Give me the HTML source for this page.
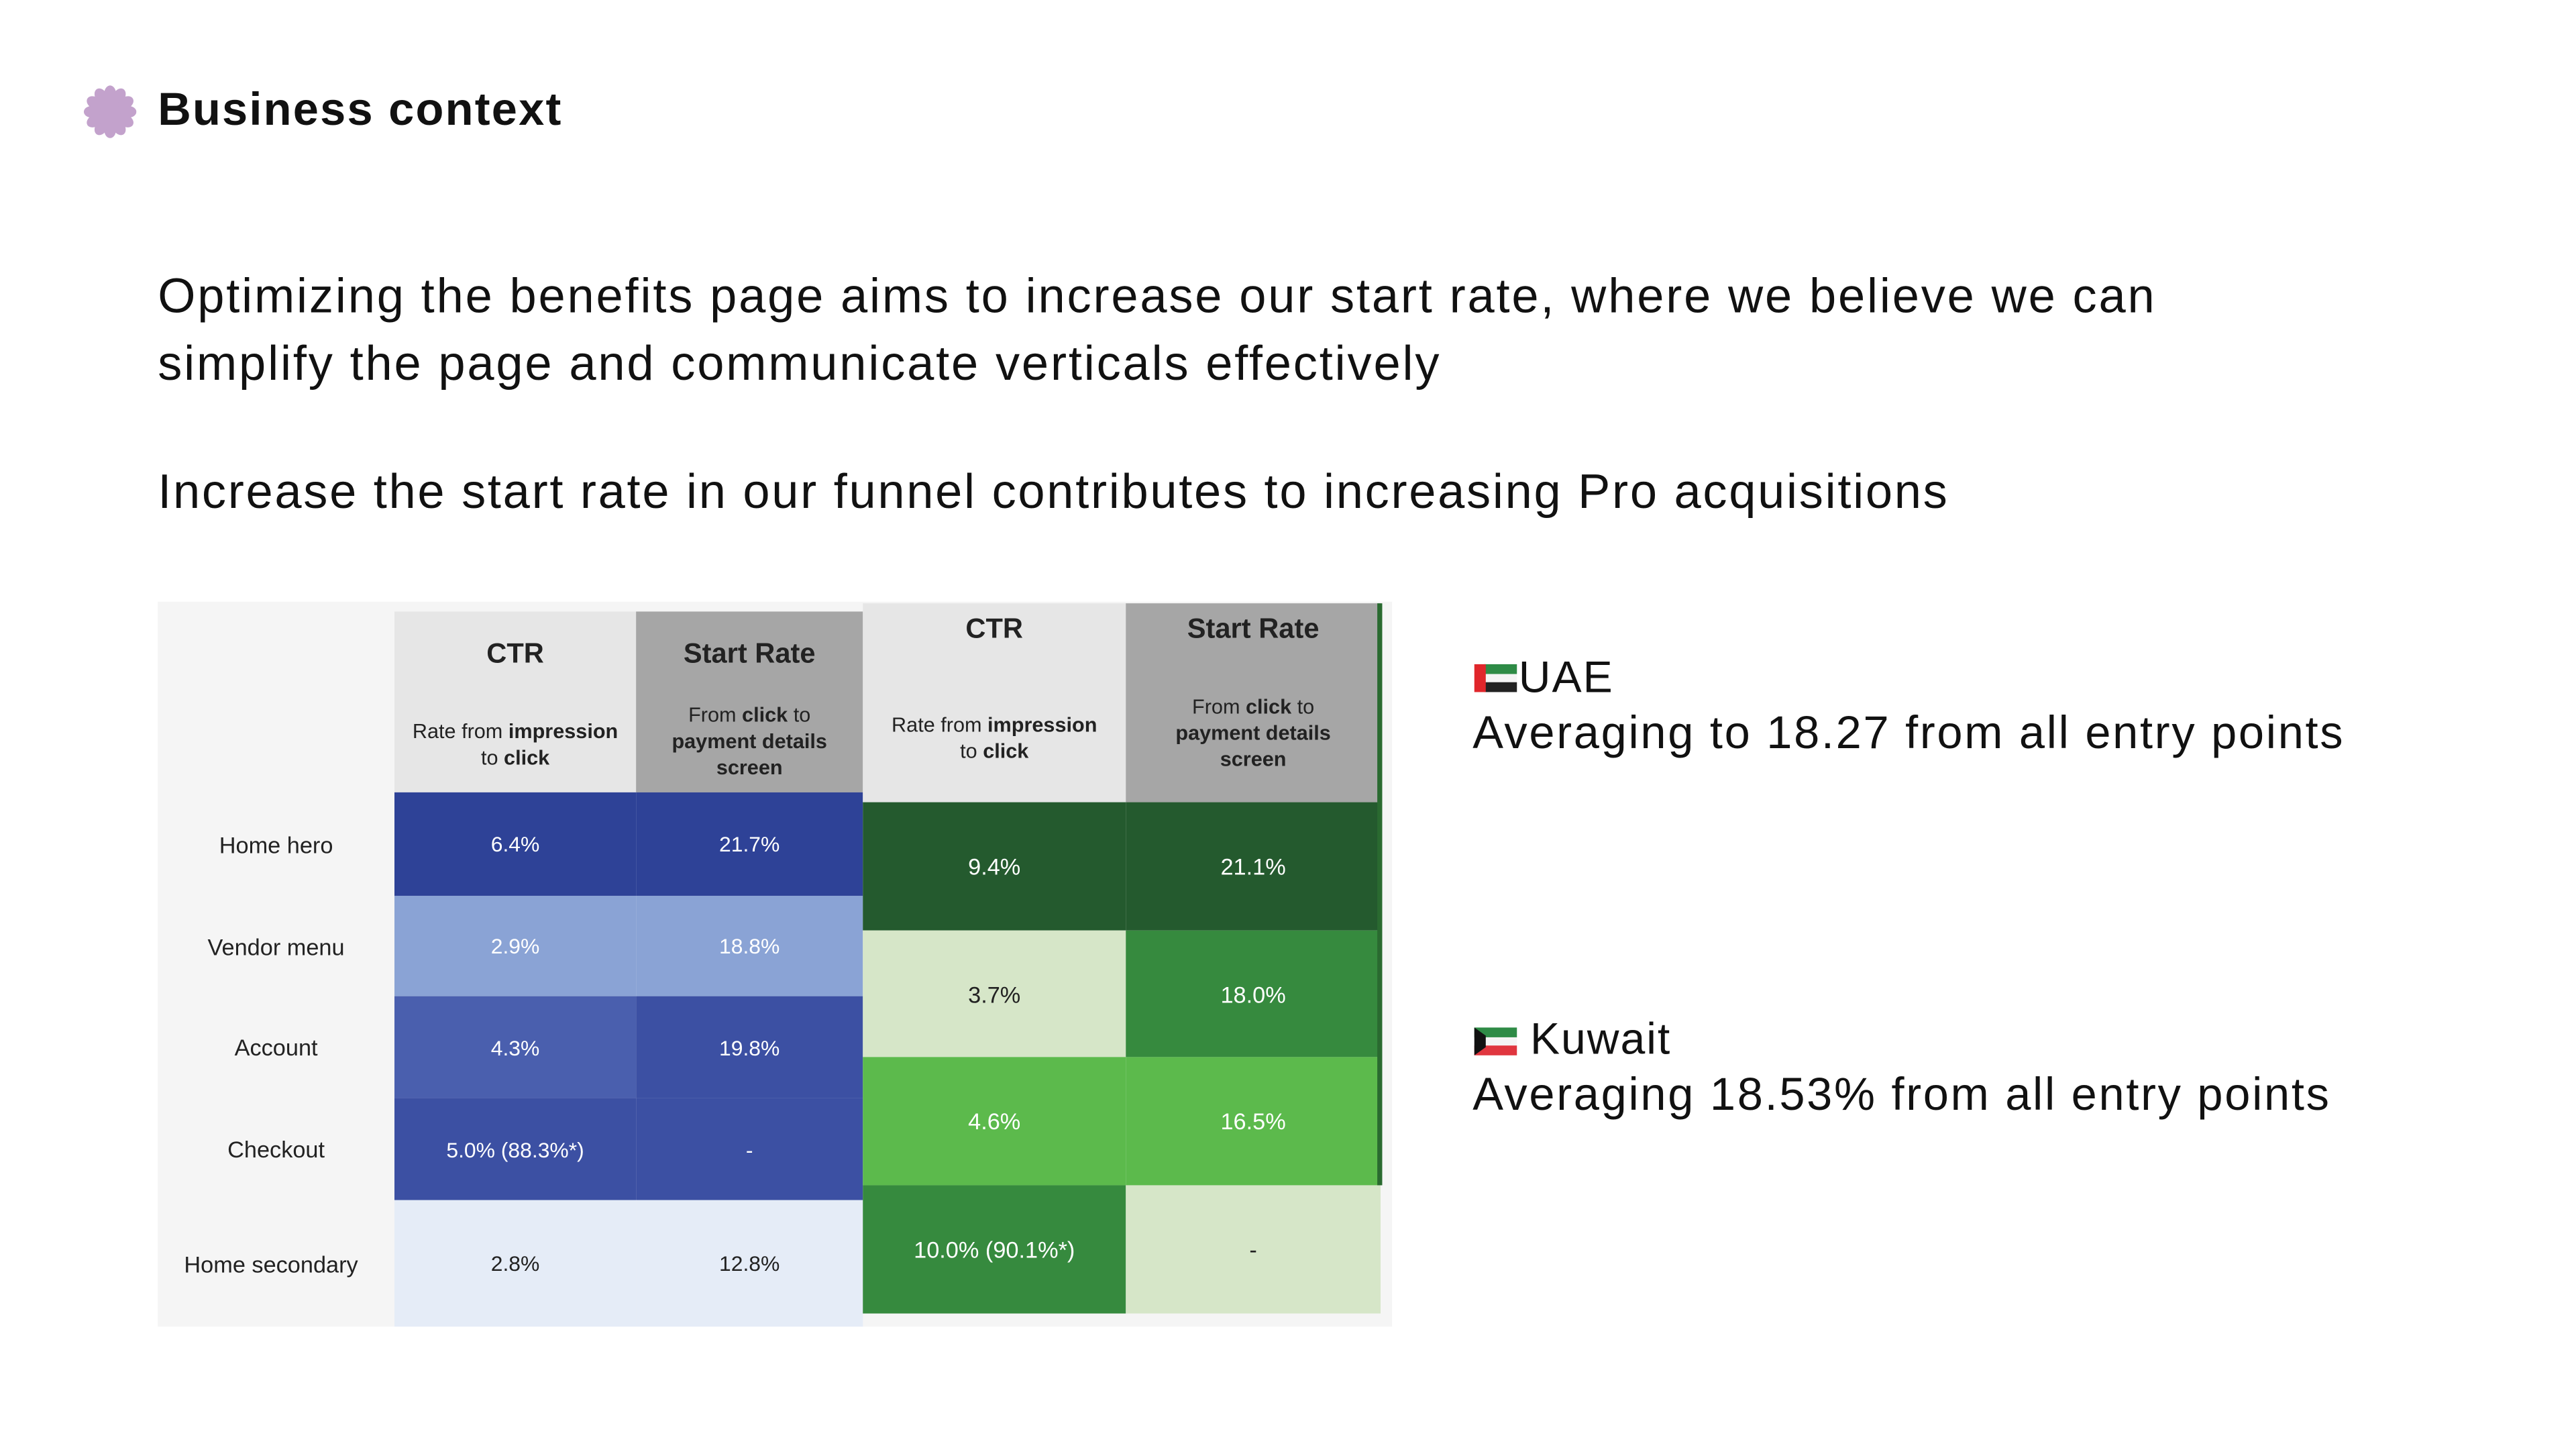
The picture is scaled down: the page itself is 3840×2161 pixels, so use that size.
<!DOCTYPE html>
<html><head><meta charset="utf-8">
<style>
html,body{margin:0;padding:0;background:#fff;width:3840px;height:2160px;overflow:hidden}
#wrap{position:absolute;left:0;top:0;width:1567px;height:882px;transform:scale(2.45);transform-origin:0 0;font-family:"Liberation Sans",sans-serif;color:#111}
.abs{position:absolute;white-space:nowrap}
.cell{position:absolute;display:flex;align-items:center;justify-content:center;text-align:center;font-size:13px;box-sizing:border-box}
.hd{position:absolute;text-align:center;box-sizing:border-box;color:#222}
.hd .t{font-weight:bold;font-size:17px}
.hd .s{font-size:12.5px;line-height:16px}
</style></head><body>
<div id="wrap">
  <svg class="abs" style="left:51px;top:51px" width="32" height="34" viewBox="0 0 32 34">
    <g fill="#c3a2cc" transform="translate(16,17)">
      <circle r="9"/>
      <g id="pet"><ellipse cx="0" cy="-11" rx="3.6" ry="5"/></g>
      <use href="#pet" transform="rotate(30)"/><use href="#pet" transform="rotate(60)"/><use href="#pet" transform="rotate(90)"/>
      <use href="#pet" transform="rotate(120)"/><use href="#pet" transform="rotate(150)"/><use href="#pet" transform="rotate(180)"/>
      <use href="#pet" transform="rotate(210)"/><use href="#pet" transform="rotate(240)"/><use href="#pet" transform="rotate(270)"/>
      <use href="#pet" transform="rotate(300)"/><use href="#pet" transform="rotate(330)"/>
    </g>
  </svg>
  <div class="abs" style="left:96px;top:51px;font-size:28px;font-weight:bold;letter-spacing:0.9px">Business context</div>
  <div class="abs" style="left:96px;top:160px;font-size:29.5px;line-height:41px;letter-spacing:1.15px">Optimizing the benefits page aims to increase our start rate, where we believe we can<br>simplify the page and communicate verticals effectively</div>
  <div class="abs" style="left:96px;top:283px;font-size:29.5px;letter-spacing:1.1px">Increase the start rate in our funnel contributes to increasing Pro acquisitions</div>

  <div class="abs" style="left:96px;top:366px;width:751px;height:441px;background:#f5f5f5"></div>
  <div id="tables"></div>

  <svg class="abs" style="left:897px;top:404px" width="26" height="17">
    <rect x="6" y="0" width="20" height="6" fill="#2e8b46"/><rect x="6" y="6" width="20" height="5" fill="#f4f4f4"/><rect x="6" y="11" width="20" height="6" fill="#222"/><rect x="0" y="0" width="7" height="17" fill="#e0262b"/>
  </svg>
  <div class="abs" style="left:924px;top:397px;font-size:27px;letter-spacing:0.8px">UAE</div>
  <div class="abs" style="left:896px;top:430px;font-size:28px;letter-spacing:1.1px">Averaging to 18.27 from all entry points</div>
  <svg class="abs" style="left:897px;top:625px" width="26" height="17">
    <rect x="0" y="0" width="26" height="6" fill="#2e8b46"/><rect x="0" y="6" width="26" height="5" fill="#f4f4f4"/><rect x="0" y="11" width="26" height="6" fill="#e0363f"/><polygon points="0,0 7,5 7,12 0,17" fill="#111"/>
  </svg>
  <div class="abs" style="left:931px;top:617px;font-size:27px;letter-spacing:0.8px">Kuwait</div>
  <div class="abs" style="left:896px;top:650px;font-size:28px;letter-spacing:1.1px">Averaging 18.53% from all entry points</div>
</div>
<script>
const rowLabels = ["Home hero","Vendor menu","Account","Checkout","Home secondary"];
const uaeCTR = ["6.4%","2.9%","4.3%","5.0% (88.3%*)","2.8%"];
const uaeStart = ["21.7%","18.8%","19.8%","-","12.8%"];
const uaeCTRColor = ["#2e4297","#8aa3d5","#4a5fae","#3c50a3","#e5ecf7"];
const uaeStartColor = ["#2e4297","#8aa3d5","#3c50a3","#3c50a3","#e5ecf7"];
const kwCTR = ["9.4%","3.7%","4.6%","10.0% (90.1%*)"];
const kwStart = ["21.1%","18.0%","16.5%","-"];
const kwCTRColor = ["#245a2e","#d6e6c8","#5cba4c","#368a3e"];
const kwStartColor = ["#245a2e","#368a3e","#5cba4c","#d6e6c8"];

const host = document.getElementById('tables');
function txtColor(c){ return (c==="#e5ecf7"||c==="#d6e6c8") ? "#222" : "#fff"; }
function add(cls, x, y, w, h, bg, html){
  const d = document.createElement('div');
  d.className = cls;
  d.style.left = x+'px'; d.style.top = y+'px'; d.style.width = w+'px'; d.style.height = h+'px';
  if (bg) d.style.background = bg;
  d.innerHTML = html;
  host.appendChild(d);
  return d;
}
const uRowY = [482,545,606,668,730,807];
function hdr(x,y,w,h,bg,title,sub,subTop,name){
  const d = add('hd',x,y,w,h,bg,'<div class="t" style="margin-top:'+(name.indexOf('kw')===0?6:16)+'px">'+title+'</div><div class="s" style="position:absolute;left:0;right:0;top:'+subTop+'px">'+sub+'</div>');
  
  
}
hdr(240,372,147,110,'#e6e6e6','CTR','Rate from <b>impression</b><br>to <b>click</b>',65,'uae-ctr-header');
hdr(387,372,138,110,'#a6a6a6','Start Rate','From <b>click</b> to<br><b>payment details</b><br><b>screen</b>',55,'uae-start-rate-header');
rowLabels.forEach((lab,i)=>{
  const y = uRowY[i], h = uRowY[i+1]-uRowY[i];
  const l = add('cell',96,y,144,h,null,lab);
  l.style.fontSize='14px'; l.style.color='#222';
  if(i===4){ l.style.justifyContent='flex-start'; l.style.paddingLeft='16px'; l.style.overflow='hidden'; }
  
  
  const a = add('cell',240,y,147,h,uaeCTRColor[i],uaeCTR[i]);
  a.style.color = txtColor(uaeCTRColor[i]);
  
  
  const b = add('cell',387,y,138,h,uaeStartColor[i],uaeStart[i]);
  b.style.color = txtColor(uaeStartColor[i]);
  
  
});
hdr(525,367,160,121,'#e6e6e6','CTR','Rate from <b>impression</b><br>to <b>click</b>',66,'kw-ctr-header');
hdr(685,367,155,121,'#a6a6a6','Start Rate','From <b>click</b> to<br><b>payment details</b><br><b>screen</b>',55,'kw-start-rate-header');
const kRowY = [488,566,643,721,799];
kwCTR.forEach((v,i)=>{
  const y = kRowY[i], h = kRowY[i+1]-kRowY[i];
  const a = add('cell',525,y,160,h,kwCTRColor[i],v);
  a.style.color = txtColor(kwCTRColor[i]); a.style.fontSize='14px';
  
  
  const b = add('cell',685,y,155,h,kwStartColor[i],kwStart[i]);
  b.style.color = txtColor(kwStartColor[i]); b.style.fontSize='14px';
  
  
});
const edge = add('abs',838,367,3,354,'#2a6a30','');


</script>
</body></html>
